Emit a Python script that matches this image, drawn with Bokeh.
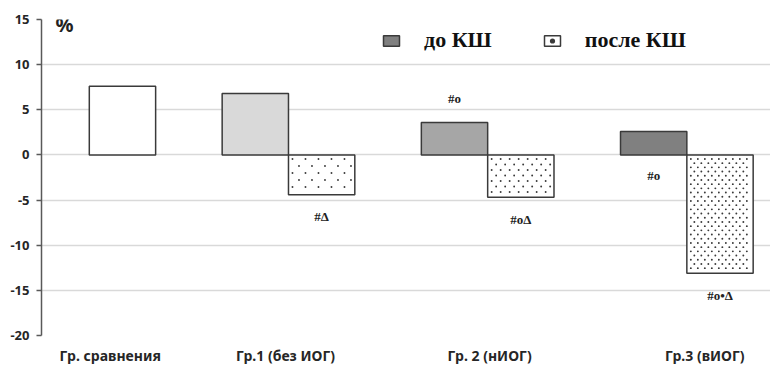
from bokeh.plotting import figure
from bokeh.models import (ColumnDataSource, FixedTicker, Legend, LegendItem, Label, Range1d)
from bokeh.core.properties import value
from bokeh.embed import file_html
from bokeh.resources import INLINE

# ---------------- data ----------------
groups = ["Гр. сравнения", "Гр.1 (без ИОГ)", "Гр. 2 (нИОГ)", "Гр.3 (вИОГ)"]
comparison_value = [7.6]
before_kx = [6.8, 3.6, 2.6]          # до КШ, groups 1-3
after_kx = [-4.4, -4.7, -13.1]       # после КШ, groups 1-3
before_marks = ["", "#o", "#o"]
after_marks = ["#Δ", "#oΔ", "#o•Δ"]
y_ticks = [-20, -15, -10, -5, 0, 5, 10, 15]

# ---------------- layout / style ----------------
W, H = 770, 367
FW, FH = 729, 316
X0, X1 = -0.24, 3.42
Y0, Y1 = -20, 15
bar_w = 0.333
before_colors = ["#d9d9d9", "#a6a6a6", "#808080"]
dot_spacing_px = [(13, 7), (9, 5.5), (7, 4.2)]   # stipple texture of "после" bars
label_pos = [0.105, 0.985, 2.01, 3.09]
before_mark_side = [None, "above", "below"]
outline = "#3a3a3a"
px_x = FW / (X1 - X0)
px_y = FH / (Y1 - Y0)

p = figure(width=W, height=H, output_backend="svg", toolbar_location=None,
           x_range=Range1d(X0, X1), y_range=Range1d(Y0, Y1),
           min_border_left=41, min_border_right=0, min_border_top=19,
           min_border_bottom=32, frame_width=FW, frame_height=FH)
p.outline_line_color = None
p.background_fill_color = "white"
p.border_fill_color = "white"

# grid
p.xgrid.grid_line_color = None
p.ygrid.grid_line_color = "#d9d9d9"
p.ygrid.grid_line_width = 1.5
p.yaxis.ticker = FixedTicker(ticks=y_ticks)
p.yaxis.major_label_overrides = {t: str(t) for t in y_ticks}

# y axis
p.yaxis.axis_line_color = "#595959"
p.yaxis.axis_line_width = 1.5
p.yaxis.major_tick_line_color = "#595959"
p.yaxis.major_tick_line_width = 1.5
p.yaxis.major_tick_out = 5
p.yaxis.major_tick_in = 0
p.yaxis.minor_tick_line_color = None
p.yaxis.major_label_text_font = "Noto Sans"
p.yaxis.major_label_text_font_style = "bold"
p.yaxis.major_label_text_font_size = "13px"
p.yaxis.major_label_text_color = "#262626"
p.yaxis.major_label_standoff = 7

# x axis (category labels)
p.xaxis.ticker = FixedTicker(ticks=label_pos)
p.xaxis.major_label_overrides = {lp: g for lp, g in zip(label_pos, groups)}
p.xaxis.axis_line_color = None
p.xaxis.major_tick_line_color = None
p.xaxis.minor_tick_line_color = None
p.xaxis.major_label_text_font = "Noto Sans"
p.xaxis.major_label_text_font_style = "bold"
p.xaxis.major_label_text_font_size = "14px"
p.xaxis.major_label_text_color = "#262626"
p.xaxis.major_label_standoff = 4

# comparison bar
p.vbar(x=[0 + bar_w / 2], top=comparison_value, bottom=0, width=bar_w,
       fill_color="white", line_color=outline, line_width=1.5)

# before / after bars
xs_before = [i + 1 - bar_w / 2 for i in range(len(before_kx))]
xs_after = [i + 1 + bar_w / 2 for i in range(len(after_kx))]
src_b = ColumnDataSource(dict(x=xs_before, top=before_kx, color=before_colors))
r_before = p.vbar(x="x", top="top", bottom=0, width=bar_w, source=src_b,
                  fill_color="color", line_color=outline, line_width=1.5)

src_a = ColumnDataSource(dict(x=xs_after, bottom=after_kx))
r_after = p.vbar(x="x", top=0, bottom="bottom", width=bar_w, source=src_a,
                 fill_color="white", line_color=outline, line_width=1.5)

# stipple texture inside the "после" bars, derived from each bar's extent
dot_x, dot_y = [], []
for xc, v, (dx, dy) in zip(xs_after, after_kx, dot_spacing_px):
    left_px = -bar_w / 2 * px_x + 3
    right_px = bar_w / 2 * px_x - 3
    depth_px = abs(v) * px_y - 3
    row = 0
    ypx = 4
    while ypx <= depth_px:
        xpx = left_px + (dx / 2 if row % 2 else 0) + 1
        while xpx <= right_px:
            dot_x.append(xc + xpx / px_x)
            dot_y.append(-ypx / px_y)
            xpx += dx
        ypx += dy
        row += 1
r_dots = p.scatter(x=dot_x, y=dot_y, marker="circle", size=1.9,
                   fill_color="#3a3a3a", line_color=None)

# significance marks
mark_font = value("Liberation Serif")
common = dict(text_font=mark_font, text_font_size="13px", text_font_style="bold",
              text_align="center", text_baseline="middle", text_color="#222222")
for x, v, m, side in zip(xs_before, before_kx, before_marks, before_mark_side):
    if not m:
        continue
    if side == "above":
        p.text(x=[x], y=[v], text=[m], y_offset=-24, **common)
    else:
        p.text(x=[x], y=[0], text=[m], y_offset=21, **common)
for x, v, m in zip(xs_after, after_kx, after_marks):
    p.text(x=[x], y=[v], text=[m], y_offset=22, **common)

# "%" label
p.add_layout(Label(x=-0.17, y=14.4, text="%", text_font="Noto Sans",
                   text_font_style="bold", text_font_size="20px",
                   text_baseline="middle", text_color="#222222"))

# legend
legend = Legend(items=[LegendItem(label="до КШ", renderers=[r_before], index=2),
                       LegendItem(label="после КШ", renderers=[r_after, r_dots], index=0)],
                orientation="horizontal", location=(340, 282),
                glyph_width=20, glyph_height=13, label_standoff=23, spacing=50,
                padding=0, margin=0, border_line_color=None,
                background_fill_alpha=0,
                label_text_font="Liberation Serif", label_text_font_style="bold",
                label_text_font_size="22px", label_text_color="#111111")
p.add_layout(legend)

open("out.html", "w").write(file_html(p, INLINE))
